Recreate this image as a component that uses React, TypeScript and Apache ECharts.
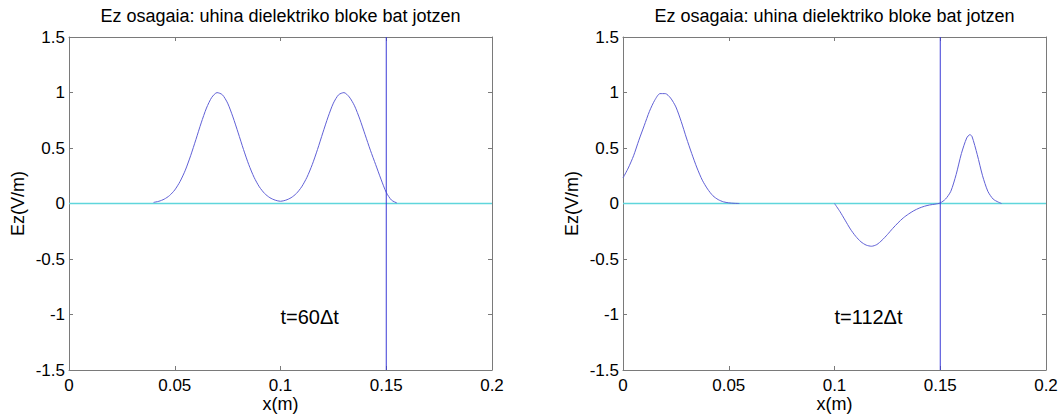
import React, { useEffect, useRef } from "react";
import * as echarts from "echarts";

const titleText = "Ez osagaia: uhina dielektriko bloke bat jotzen";
const xName = "x(m)";
const yName = "Ez(V/m)";
const xMin = 0;
const xMax = 0.2;
const xStep = 0.05;
const yMin = -1.5;
const yMax = 1.5;
const yStep = 0.5;
const boundaryX = 0.15;
const zeroLineX = [0, 0.2];
const zeroLineY = [0, 0];
const labelAt = [0.1, -1.02];

// Left panel: t = 60 dt
const leftLabel = "t=60Δt";
const leftX = [
  0.04, 0.0425, 0.045, 0.0475, 0.05, 0.0525, 0.055, 0.0575, 0.06, 0.0625, 0.065, 0.0675, 0.07,
  0.0725, 0.075, 0.0775, 0.08, 0.0825, 0.085, 0.0875, 0.09, 0.0925, 0.095, 0.0975, 0.1,
  0.1025, 0.105, 0.1075, 0.11, 0.1125, 0.115, 0.1175, 0.12, 0.1225, 0.125, 0.1275, 0.13,
  0.1325, 0.135, 0.1375, 0.14, 0.1425, 0.145, 0.1475, 0.15, 0.1525, 0.155,
];
const leftEz = [
  0.01, 0.02, 0.039, 0.071, 0.122, 0.198, 0.3, 0.43, 0.576, 0.726, 0.86, 0.956, 0.999,
  0.98, 0.904, 0.78, 0.636, 0.487, 0.35, 0.236, 0.15, 0.09, 0.052, 0.03, 0.02,
  0.03, 0.052, 0.09, 0.15, 0.236, 0.35, 0.487, 0.636, 0.78, 0.904, 0.98, 0.999,
  0.96, 0.88, 0.76, 0.62, 0.48, 0.35, 0.22, 0.1, 0.03, 0.005,
];

// Right panel: t = 112 dt
const rightLabel = "t=112Δt";
const rightX1 = [
  0, 0.0025, 0.005, 0.0075, 0.01, 0.0125, 0.015, 0.0175, 0.02, 0.0225, 0.025, 0.0275, 0.03,
  0.0325, 0.035, 0.0375, 0.04, 0.0425, 0.045, 0.0475, 0.05, 0.0525, 0.055,
];
const rightEz1 = [
  0.23, 0.32, 0.43, 0.57, 0.7, 0.83, 0.93, 0.99, 0.99, 0.95, 0.87, 0.74, 0.59,
  0.45, 0.32, 0.21, 0.13, 0.07, 0.035, 0.015, 0.006, 0.002, 0,
];
const rightX2 = [
  0.1, 0.1025, 0.105, 0.1075, 0.11, 0.1125, 0.115, 0.1175, 0.12, 0.1225, 0.125, 0.1275, 0.13,
  0.1325, 0.135, 0.1375, 0.14, 0.1425, 0.145, 0.1475, 0.15, 0.1525, 0.155, 0.1575, 0.16,
  0.1625, 0.164, 0.165, 0.1675, 0.17, 0.1725, 0.175, 0.1775, 0.179,
];
const rightEz2 = [
  0, -0.07, -0.15, -0.23, -0.295, -0.345, -0.375, -0.385, -0.37, -0.33, -0.28, -0.225, -0.175,
  -0.13, -0.095, -0.065, -0.042, -0.025, -0.013, -0.006, 0.005, 0.04, 0.11, 0.26, 0.45,
  0.59, 0.62, 0.605, 0.44, 0.25, 0.11, 0.04, 0.012, 0,
];

const FONT = "'Liberation Sans', Arial, Helvetica, sans-serif";
const AXIS_COLOR = "#7a7a7a";
const CURVE_COLOR = "#6060d6";
const VLINE_COLOR = "#3a3ad6";
const CYAN = "#5fd6dc";

const pairs = (xs: number[], ys: number[]) => xs.map((x, i) => [x, ys[i]]);

const gridLefts = [69, 623];
const gridWidth = 423;

function buildOption() {
  const grids = gridLefts.map((left) => ({
    left,
    top: 37,
    width: gridWidth,
    height: 333,
    containLabel: false,
    outerBoundsMode: "none",
  }));
  const xAxes: any[] = [];
  const yAxes: any[] = [];
  gridLefts.forEach((_, gi) => {
    const common = {
      gridIndex: gi,
      type: "value",
      splitLine: { show: false },
      axisLine: { show: true, onZero: false, lineStyle: { color: AXIS_COLOR, width: 1 } },
      axisTick: { show: true, inside: true, length: 4, lineStyle: { color: AXIS_COLOR } },
    };
    xAxes.push({
      ...common,
      position: "bottom",
      min: xMin,
      max: xMax,
      interval: xStep,
      name: xName,
      nameLocation: "middle",
      nameGap: 26,
      nameMoveOverlap: false,
      nameTextStyle: { fontFamily: FONT, fontSize: 18, lineHeight: 16, color: "#000" },
      axisLabel: {
        show: true,
        margin: 8,
        fontFamily: FONT,
        fontSize: 17,
        lineHeight: 14,
        color: "#000",
        showMinLabel: true,
        showMaxLabel: true,
      },
    });
    xAxes.push({
      ...common,
      position: "top",
      min: xMin,
      max: xMax,
      interval: xStep,
      axisLabel: { show: false },
    });
    yAxes.push({
      ...common,
      position: "left",
      min: yMin,
      max: yMax,
      interval: yStep,
      name: yName,
      nameLocation: "middle",
      nameGap: 42,
      nameRotate: 90,
      nameMoveOverlap: false,
      nameTextStyle: { fontFamily: FONT, fontSize: 18, color: "#000" },
      axisLabel: {
        show: true,
        margin: 4,
        fontFamily: FONT,
        fontSize: 17,
        color: "#000",
        showMinLabel: true,
        showMaxLabel: true,
      },
    });
    yAxes.push({
      ...common,
      position: "right",
      min: yMin,
      max: yMax,
      interval: yStep,
      axisLabel: { show: false },
    });
  });

  const panels = [
    { segments: [pairs(leftX, leftEz)], label: leftLabel },
    { segments: [pairs(rightX1, rightEz1), pairs(rightX2, rightEz2)], label: rightLabel },
  ];

  const series: any[] = [];
  panels.forEach((p, gi) => {
    const axisIdx = { xAxisIndex: gi * 2, yAxisIndex: gi * 2 };
    series.push({
      type: "line",
      ...axisIdx,
      data: pairs(zeroLineX, zeroLineY),
      symbol: "none",
      lineStyle: { color: CYAN, width: 1.5 },
      z: 2,
      silent: true,
    });
    p.segments.forEach((seg) => {
      series.push({
        type: "line",
        ...axisIdx,
        data: seg,
        symbol: "none",
        smooth: 0.25,
        lineStyle: { color: CURVE_COLOR, width: 1 },
        z: 3,
        silent: true,
      });
    });
    series.push({
      type: "line",
      ...axisIdx,
      data: [
        [boundaryX, yMin],
        [boundaryX, yMax],
      ],
      symbol: "none",
      lineStyle: { color: VLINE_COLOR, width: 1 },
      z: 4,
      silent: true,
    });
    series.push({
      type: "scatter",
      ...axisIdx,
      data: [labelAt],
      symbol: "circle",
      symbolSize: 0,
      itemStyle: { color: "#000", opacity: 1 },
      label: {
        show: true,
        position: "right",
        distance: 0,
        formatter: p.label,
        fontFamily: FONT,
        fontSize: 20,
        color: "#000",
        opacity: 1,
      },
      z: 5,
      silent: true,
    });
  });

  const graphics = gridLefts.map((left) => ({
    type: "text",
    x: left + gridWidth / 2,
    y: 16,
    style: {
      text: titleText,
      fontFamily: FONT,
      fontSize: 18,
      fill: "#000",
      textAlign: "center",
      textVerticalAlign: "middle",
    },
  }));

  return {
    animation: false,
    backgroundColor: "#fff",
    grid: grids,
    xAxis: xAxes,
    yAxis: yAxes,
    series,
    graphic: graphics,
  };
}

export default function App() {
  const ref = useRef<HTMLDivElement>(null);
  useEffect(() => {
    if (!ref.current) return;
    const chart = echarts.init(ref.current, undefined, { renderer: "svg" });
    chart.setOption(buildOption() as any);
    return () => chart.dispose();
  }, []);
  return (
    <div
      ref={ref}
      style={{ position: "absolute", left: 0, top: 0, width: 1061, height: 414, background: "#fff" }}
    />
  );
}
